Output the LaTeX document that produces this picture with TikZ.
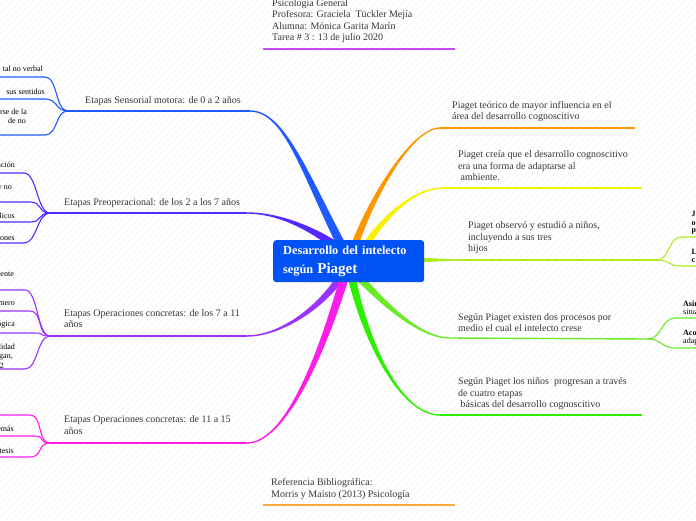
\documentclass[tikz,border=0pt]{standalone}
\usepackage{fontspec}
\setmainfont{Liberation Serif}
\usetikzlibrary{calc}
\definecolor{cBlue}{RGB}{30,90,255}
\definecolor{cPre}{RGB}{85,40,255}
\definecolor{cOpA}{RGB}{155,50,255}
\definecolor{cOpB}{RGB}{250,30,230}
\definecolor{cOrange}{RGB}{255,150,0}
\definecolor{cYellow}{RGB}{250,240,0}
\definecolor{cYG}{RGB}{175,235,30}
\definecolor{cGreen}{RGB}{105,235,40}
\definecolor{cBright}{RGB}{45,240,0}
\definecolor{cCenter}{RGB}{0,82,245}
\definecolor{cTop}{RGB}{205,70,255}
\definecolor{cBot}{RGB}{255,170,60}
\definecolor{txtgray}{RGB}{55,55,55}
\newcommand\thickbr[7]{%
  \fill[#1] ($(#2)+(0,-0.7)$) .. controls ($(#3)+(0,-0.7)$) and ($(#4)-0.7*(#6,#7)$) .. ($(#5)-(#6,#7)$)
    -- ($(#5)+(#6,#7)$) .. controls ($(#4)+0.7*(#6,#7)$) and ($(#3)+(0,0.7)$) .. ($(#2)+(0,0.7)$) -- cycle;}
\newcommand\subL[3]{\draw[#1,subln] (#2) .. controls +(-13,0) and +(13,0) .. (#3) -- ++(-60,0);}
\newcommand\subR[3]{\draw[#1,subln] (#2) .. controls +(13,0) and +(-13,0) .. (#3) -- ++(40,0);}
\tikzset{
  txt/.style={font=\fontsize{10}{11.4}\selectfont, text=txtgray, align=left, anchor=base west, inner sep=0pt},
  small/.style={font=\fontsize{8}{9}\selectfont, text=black, anchor=base east, inner sep=0pt},
  smallr/.style={font=\fontsize{8}{9}\selectfont, text=black, anchor=base west, inner sep=0pt},
  smallb/.style={smallr, font=\fontsize{8}{9}\selectfont\bfseries},
  mainln/.style={line width=1.4pt},
  subln/.style={line width=1.1pt},
}
\begin{document}
\begin{tikzpicture}[x=1pt,y=-1pt]
\useasboundingbox (0,0) rectangle (696,520);
\begin{scope}
  \clip (0,0) rectangle (696,520);
  \foreach \i in {0,7,...,1230} \draw[black!5, line width=0.4pt] (\i-520,520) -- (\i,0);
\end{scope}

% ---------- coordinates ----------
\coordinate (bS) at (345,252);  \coordinate (bE) at (250,111);  \coordinate (bF) at (68,111);
\coordinate (pS) at (340,249);  \coordinate (pE) at (247,213);  \coordinate (pF) at (50,213);
\coordinate (aS) at (343,274);  \coordinate (aE) at (247,336);  \coordinate (aF) at (50,336);
\coordinate (mS) at (346,272);  \coordinate (mE) at (247,443);  \coordinate (mF) at (50,443);
\coordinate (oS) at (353,250);  \coordinate (oE) at (440,128);  \coordinate (oF) at (635,128);
\coordinate (yS) at (364,248);  \coordinate (yE) at (443,188);  \coordinate (yF) at (642,188);
\coordinate (gS) at (415,260);  \coordinate (gE) at (455,260);  \coordinate (gF) at (657,260);
\coordinate (nS) at (356,274);  \coordinate (nE) at (450,338);  \coordinate (nF) at (648,339);
\coordinate (kS) at (351,274);  \coordinate (kE) at (440,415);  \coordinate (kF) at (642,415);

% ---------- thick branches ----------
\thickbr{cBlue}{bE}{285,111}{305,175}{bS}{-4}{2}
\thickbr{cPre}{pE}{280,213}{315,230}{pS}{-2.9}{3.4}
\thickbr{cOpA}{aE}{277,336}{318,312}{aS}{3.3}{2.2}
\thickbr{cOpB}{mE}{285,443}{322,355}{mS}{4.3}{1.5}
\thickbr{cOrange}{oE}{410,128}{368,205}{oS}{3.6}{1.2}
\thickbr{cYellow}{yE}{415,188}{385,215}{yS}{3}{1.7}
\thickbr{cGreen}{nE}{420,338}{385,305}{nS}{-3}{2.6}
\thickbr{cBright}{kE}{400,415}{365,340}{kS}{-3.9}{0.8}
\fill[cYG] ($(gS)+(0,-2.5)$) -- ($(gE)+(0,-0.7)$) -- ($(gE)+(0,0.7)$) -- ($(gS)+(0,2.5)$) -- cycle;

% ---------- horizontal lines ----------
\draw[cBlue,mainln] (bE) -- (bF);
\draw[cPre,mainln] (pE) -- (pF);
\draw[cOpA,mainln] (aE) -- (aF);
\draw[cOpB,mainln] (mE) -- (mF);
\draw[cOrange,mainln] (oE) -- (oF);
\draw[cYellow,mainln] (yE) -- (yF);
\draw[cYG,mainln] (gE) -- (gF);
\draw[cGreen,mainln] (nE) -- (nF);
\draw[cBright,mainln] (kE) -- (kF);

% ---------- sub branches ----------
\coordinate (b1) at (45,77); \coordinate (b2) at (45,99); \coordinate (b3) at (45,135);
\subL{cBlue}{bF}{b1} \subL{cBlue}{bF}{b2} \subL{cBlue}{bF}{b3}
\coordinate (p1) at (24,173); \coordinate (p2) at (30,202); \coordinate (p3) at (30,222); \coordinate (p4) at (24,243);
\subL{cPre}{pF}{p1} \subL{cPre}{pF}{p2} \subL{cPre}{pF}{p3} \subL{cPre}{pF}{p4}
\coordinate (a1) at (25,290); \coordinate (a2) at (30,311); \coordinate (a3) at (34,333); \coordinate (a4) at (25,369);
\subL{cOpA}{aF}{a1} \subL{cOpA}{aF}{a2} \subL{cOpA}{aF}{a3} \subL{cOpA}{aF}{a4}
\coordinate (m1) at (30,415); \coordinate (m2) at (34,436); \coordinate (m3) at (30,457);
\subL{cOpB}{mF}{m1} \subL{cOpB}{mF}{m2} \subL{cOpB}{mF}{m3}
\coordinate (g1) at (681,237); \coordinate (g2) at (681,266);
\subR{cYG}{gF}{g1} \subR{cYG}{gF}{g2}
\coordinate (n1) at (675,318); \coordinate (n2) at (675,348);
\subR{cGreen}{nF}{n1} \subR{cGreen}{nF}{n2}

% ---------- top & bottom topics ----------
\coordinate (tL) at (263,49); \coordinate (tR) at (455,49);
\draw[cTop,line width=1.3pt] (tL) -- (tR);
\coordinate (uL) at (263,505); \coordinate (uR) at (455,505);
\draw[cBot,line width=1.3pt] (uL) -- (uR);
\node[txt] (top) at (272,40.5) {Psicología General\\Profesora: Graciela\ \ Tückler Mejía\\Alumna: Mónica Garita Marín\\Tarea \# 3 : 13 de julio 2020};
\node[txt] (ref) at (271,497) {Referencia Bibliográfica:\\Morris y Maisto (2013) Psicología};

% ---------- center ----------
\node[fill=cCenter, rounded corners=3pt, anchor=north west, minimum width=151pt, minimum height=42pt,
      text width=137pt, inner xsep=7pt, inner ysep=0pt, align=left, text=white,
      font=\fontsize{12.3}{19}\selectfont\bfseries] (ctr) at (273,240)
  {\hspace*{3pt}Desarrollo del intelecto\\\hspace*{3pt}según {\fontsize{15}{19}\selectfont Piaget}};

% ---------- main texts ----------
\node[txt] (t1) at (85,103) {Etapas Sensorial motora: de 0 a 2 años};
\node[txt] (t2) at (64,205) {Etapas Preoperacional: de los 2 a los 7 años};
\node[txt] (t3) at (64,327.5) {Etapas Operaciones concretas: de los 7 a 11\\años};
\node[txt] (t4) at (64,434) {Etapas Operaciones concretas: de 11 a 15\\años};
\node[txt] (r1) at (452,119.5) {Piaget teórico de mayor influencia en el\\área del desarrollo cognoscitivo};
\node[txt] (r2) at (458,180.5) {Piaget creía que el desarrollo cognoscitivo\\era una forma de adaptarse al\\\ ambiente.};
\node[txt] (r3) at (468,251.5) {Piaget observó y estudió a niños,\\incluyendo a sus tres\\hijos};
\node[txt] (r4) at (458,331.5) {Según Piaget existen dos procesos por\\medio el cual el intelecto crese};
\node[txt] (r5) at (458,407.5) {Según Piaget los niños\ \ progresan a través\\de cuatro etapas\\\ básicas del desarrollo cognoscitivo};

% ---------- small cut texts (left) ----------
\node[small] (s1) at (43,71) {tal no verbal};
\node[small] (s2) at (45,94) {sus sentidos};
\node[small] (s3) at (27,114) {arse de la};
\node[small] (s4) at (26,123) {de no};
\node[small] (s5) at (15,167) {ación};
\node[small] (s6) at (12,189) {y no};
\node[small] (s7) at (15,218) {ólicos};
\node[small] (s8) at (15,240) {iones};
\node[small] (s9) at (14,276) {iente};
\node[small] (s10) at (15,305) {mero};
\node[small] (s11) at (15,326.5) {ógica};
\node[small] (s12) at (15,349) {lidad};
\node[small] (s13) at (13,358.5) {gan,};
\node[small] (s14) at (4,368) {2};
\node[small] (s15) at (14,431) {emás};
\node[small] (s16) at (14,453) {tesis};

% ---------- small cut texts (right) ----------
\node[smallb] (q1) at (691.5,216.5) {J};
\node[smallb] (q2) at (691.5,225) {o};
\node[smallb] (q3) at (691.5,232.5) {p};
\node[smallb] (q4) at (691.5,254) {L};
\node[smallb] (q5) at (691.5,262.5) {c};
\node[smallb] (q6) at (683,306) {Asim};
\node[smallr] (q7) at (683,314.5) {situa};
\node[smallb] (q8) at (683,335.5) {Acom};
\node[smallr] (q9) at (683,343.5) {adap};
\end{tikzpicture}
\end{document}
